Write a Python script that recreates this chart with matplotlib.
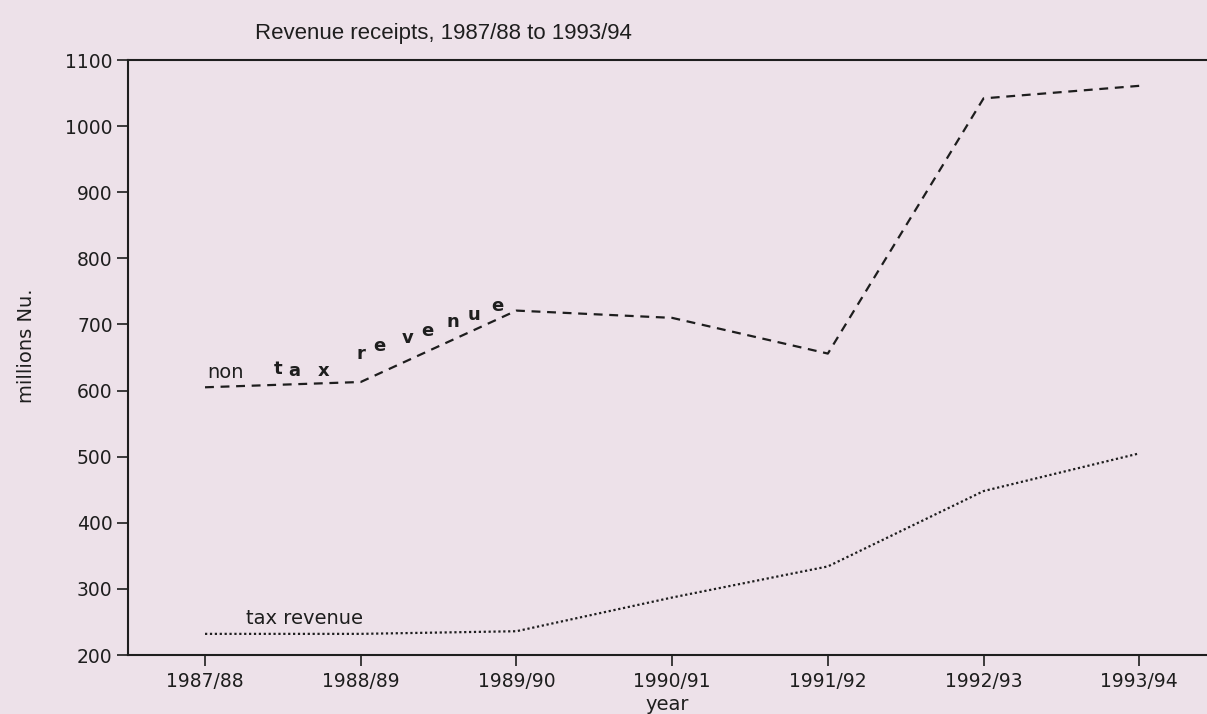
import matplotlib
matplotlib.use("Agg")
import matplotlib.pyplot as plt

plt.rcParams['font.family'] = ['DejaVu Sans']

years = ["1987/88", "1988/89", "1989/90", "1990/91", "1991/92", "1992/93", "1993/94"]
non_tax_revenue = [605, 613, 721, 710, 656, 1042, 1061]
tax_revenue = [232, 232, 236, 287, 334, 448, 505]
y_ticks = [200, 300, 400, 500, 600, 700, 800, 900, 1000, 1100]

bg = '#ede1e9'
ink = '#1e1e1e'

fig = plt.figure(figsize=(12.07, 7.14), dpi=100, facecolor=bg)
ax = fig.add_axes([0.106, 0.0826, 0.894, 0.8333], facecolor=bg)

x = list(range(len(years)))
ax.plot(x, non_tax_revenue, linestyle=(0, (4, 3)), color=ink, lw=1.6)
ax.plot(x, tax_revenue, linestyle=(0, (1, 1.2)), color=ink, lw=1.6)

ax.set_xlim(-0.495, 6.435)
ax.set_ylim(200, 1100)
ax.set_xticks(x)
ax.set_xticklabels(years)
ax.set_yticks(y_ticks)
ax.tick_params(axis='both', direction='out', length=8, width=1.2, colors=ink,
               labelsize=13.5, labelcolor=ink)
ax.tick_params(axis='x', pad=4)
ax.tick_params(axis='y', pad=3)
for s in ['left', 'bottom', 'top']:
    ax.spines[s].set_color(ink)
    ax.spines[s].set_linewidth(1.5)
ax.spines['right'].set_visible(False)

ax.set_xlabel("year", fontsize=14, color=ink, labelpad=3)
ax.set_ylabel("millions Nu.", fontsize=14, color=ink)
ax.yaxis.set_label_coords(-0.085, 0.52)

fig.text(0.211, 0.953, "Revenue receipts, 1987/88 to 1993/94", fontsize=16,
         color=ink, ha='left', va='center', family='Liberation Sans')

# in-plot series labels (letters spread along the curve as in the original)
ax.text(0.13, 627, "non", fontsize=14, color=ink, ha='center', va='center')
letters = [("t", 0.47, 633), ("a", 0.57, 630), ("x", 0.76, 629),
           ("r", 1.0, 656), ("e", 1.12, 667), ("v", 1.3, 679), ("e", 1.43, 690),
           ("n", 1.59, 704), ("u", 1.73, 714), ("e", 1.88, 728)]
for ch, lx, ly in letters:
    ax.text(lx, ly, ch, fontsize=13, color=ink, ha='center', va='center',
            fontweight='bold')
ax.text(0.64, 256, "tax revenue", fontsize=14, color=ink, ha='center', va='center')

fig.savefig("out.png", dpi=100, facecolor=bg)
